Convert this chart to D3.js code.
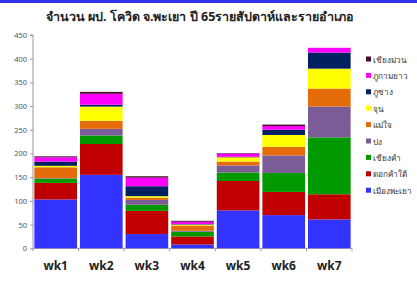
<!DOCTYPE html>
<html>
<head>
<meta charset="utf-8">
<script src="https://d3js.org/d3.v7.min.js"></script>
<style>
    body { margin: 0; background: #ffffff; }
    text { font-family: "Noto Sans", "DejaVu Sans", sans-serif; }
    .tick text { font-size: 7.5px; fill: #555555; }
    .domain, .tick line { stroke: #999999; }
    .chart-title { font-size: 12.5px; font-weight: 700; fill: #222222; }
    .cat-label { font-size: 12px; font-weight: 700; fill: #222222; }
    .legend-label { font-size: 8.2px; fill: #333333; }
</style>
</head>
<body>
<div id="chart"></div>
<script>
    // weeks and districts (stack order bottom -> top)
    const weeks = ["wk1", "wk2", "wk3", "wk4", "wk5", "wk6", "wk7"];
    const districts = ["เมืองพะเยา", "ดอกคำใต้", "เชียงคำ", "ปง", "แม่ใจ", "จุน", "ภูซาง", "ภูกามยาว", "เชียงม่วน"];
    const colors = ["#3333ff", "#c00000", "#009900", "#7b5c96", "#e46c0a", "#ffff00", "#002060", "#ff00ff", "#4a0a2a"];

    // values per district, one per week
    const muangPhayao = [103, 155, 30, 8, 80, 70, 61];
    const dokKhamTai  = [35, 65, 49, 17, 62, 49, 53];
    const chiangKham  = [9, 18, 13, 10, 18, 40, 120];
    const pong        = [1, 14, 10, 2, 15, 37, 65];
    const maeChai     = [23, 17, 5, 11, 8, 18, 38];
    const chun        = [3, 30, 3, 2, 9, 25, 42];
    const phuSang     = [9, 4, 21, 1, 1, 11, 34];
    const phuKamyao   = [9, 23, 18, 5, 7, 8, 10];
    const chiangMuan  = [2, 4, 3, 2, 1, 3, 0];

    const yTicks = [0, 50, 100, 150, 200, 250, 300, 350, 400, 450];

    const series = [muangPhayao, dokKhamTai, chiangKham, pong, maeChai, chun, phuSang, phuKamyao, chiangMuan];

    const W = 417, H = 290;
    const svg = d3.select("#chart").append("svg")
        .attr("width", W)
        .attr("height", H);

    // blue strip on top
    svg.append("rect")
        .attr("x", 0).attr("y", 0)
        .attr("width", W).attr("height", 3)
        .attr("fill", "#3333ee");

    // title
    svg.append("text")
        .attr("class", "chart-title")
        .attr("x", 200)
        .attr("y", 21)
        .attr("text-anchor", "middle")
        .text("จำนวน ผป. โควิด จ.พะเยา ปี 65รายสัปดาห์และรายอำเภอ");

    // build table for the stack
    const table = weeks.map((w, i) => {
        const row = {week: w};
        districts.forEach((d, j) => { row[d] = series[j][i]; });
        return row;
    });
    const stacked = d3.stack().keys(districts)(table);

    const x = d3.scaleBand()
        .domain(weeks)
        .range([33, 352])
        .paddingInner(0.065)
        .paddingOuter(0.03);

    const y = d3.scaleLinear()
        .domain([0, 450])
        .range([248.3, 35]);

    // y axis
    svg.append("g")
        .attr("transform", "translate(33,0)")
        .call(d3.axisLeft(y).tickValues(yTicks).tickSize(3).tickPadding(3))
        .call(g => g.select(".domain").attr("d", `M-3,${y(450)}H0V${y(0)}`));

    // x axis line with ticks at band boundaries
    const xg = svg.append("g");
    xg.append("line")
        .attr("x1", 33).attr("x2", 352)
        .attr("y1", y(0)).attr("y2", y(0))
        .attr("stroke", "#999999");
    const bounds = weeks.map(w => x(w) - x.step() * x.paddingInner() / 2).concat([352]);
    xg.selectAll(".xt")
        .data(bounds)
        .join("line")
        .attr("x1", d => d).attr("x2", d => d)
        .attr("y1", y(0)).attr("y2", y(0) + 3)
        .attr("stroke", "#999999");

    xg.selectAll(".cat-label")
        .data(weeks)
        .join("text")
        .attr("class", "cat-label")
        .attr("x", d => x(d) + x.bandwidth() / 2)
        .attr("y", 270)
        .attr("text-anchor", "middle")
        .text(d => d);

    // bars
    svg.append("g")
        .selectAll("g")
        .data(stacked)
        .join("g")
        .attr("fill", (d, i) => colors[i])
        .selectAll("rect")
        .data(d => d)
        .join("rect")
        .attr("x", d => x(d.data.week))
        .attr("y", d => y(d[1]))
        .attr("height", d => y(d[0]) - y(d[1]))
        .attr("width", x.bandwidth());

    // legend (top -> bottom reversed order)
    const legendOrder = districts.map((d, i) => i).reverse();
    const legend = svg.append("g")
        .selectAll("g")
        .data(legendOrder)
        .join("g")
        .attr("transform", (d, k) => `translate(366, ${60 + k * 16.4})`);
    legend.append("rect")
        .attr("x", 0).attr("y", -3.5)
        .attr("width", 5).attr("height", 5)
        .attr("fill", i => colors[i]);
    legend.append("text")
        .attr("class", "legend-label")
        .attr("x", 7)
        .attr("y", 2.5)
        .text(i => districts[i]);
</script>
</body>
</html>
